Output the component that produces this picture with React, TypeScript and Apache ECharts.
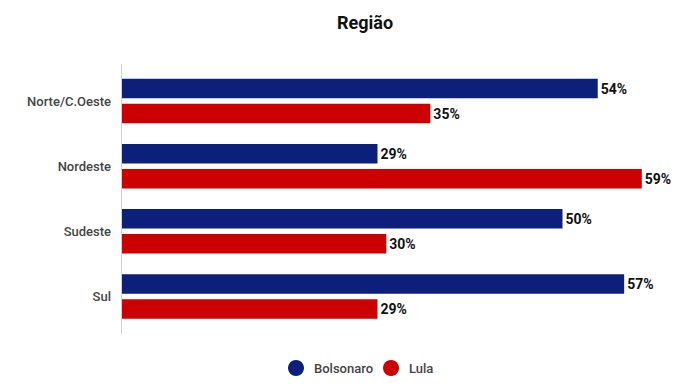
import React, { useEffect, useRef } from "react";
import * as echarts from "echarts";

const categories = ["Norte/C.Oeste", "Nordeste", "Sudeste", "Sul"];
const bolsonaro = [54, 29, 50, 57];
const lula = [35, 59, 30, 29];
const seriesNames = ["Bolsonaro", "Lula"];

export default function App() {
  const ref = useRef<HTMLDivElement>(null);
  useEffect(() => {
    if (!ref.current) return;
    const chart = echarts.init(ref.current, undefined, { renderer: "svg" });
    const label = {
      show: true,
      position: "right",
      distance: 3,
      formatter: "{c}%",
      color: "#111",
      fontWeight: "bold",
      fontSize: 14,
      fontFamily: "Roboto",
    };
    chart.setOption({
      animation: false,
      textStyle: { fontFamily: "Roboto" },
      title: {
        text: "Região",
        left: 332,
        top: 8,
        padding: 5,
        textStyle: { fontSize: 18, fontWeight: "bold", color: "#111", fontFamily: "Roboto" },
      },
      legend: {
        bottom: 9,
        left: 283,
        padding: 5,
        icon: "circle",
        itemWidth: 16,
        itemHeight: 16,
        itemGap: 10,
        data: seriesNames,
        textStyle: {
          fontSize: 13,
          color: "#444",
          fontWeight: 500,
          fontFamily: "Roboto",
          padding: [0, 0, 0, 5],
        },
      },
      grid: { left: 122, top: 68.5, height: 260.5, width: 528.6 },
      xAxis: {
        type: "value",
        min: 0,
        max: 60,
        show: false,
      },
      yAxis: {
        type: "category",
        data: categories,
        inverse: true,
        axisLine: { show: false },
        axisTick: { show: false },
        axisLabel: { color: "#444", fontSize: 13, fontWeight: 500, margin: 11, fontFamily: "Roboto" },
      },
      graphic: [
        {
          type: "line",
          shape: { x1: 121.5, y1: 64, x2: 121.5, y2: 334 },
          style: { stroke: "#d0d0d0", lineWidth: 1 },
        },
      ],
      series: [
        {
          name: seriesNames[0],
          type: "bar",
          data: bolsonaro,
          barWidth: 19.5,
          barGap: "28%",
          itemStyle: { color: "#0b1f7b" },
          label,
        },
        {
          name: seriesNames[1],
          type: "bar",
          data: lula,
          barWidth: 19.5,
          barGap: "28%",
          itemStyle: { color: "#cc0000" },
          label,
        },
      ],
    });
    return () => chart.dispose();
  }, []);
  return (
    <div
      ref={ref}
      style={{ position: "absolute", left: 0, top: 0, width: 695, height: 390 }}
    />
  );
}
